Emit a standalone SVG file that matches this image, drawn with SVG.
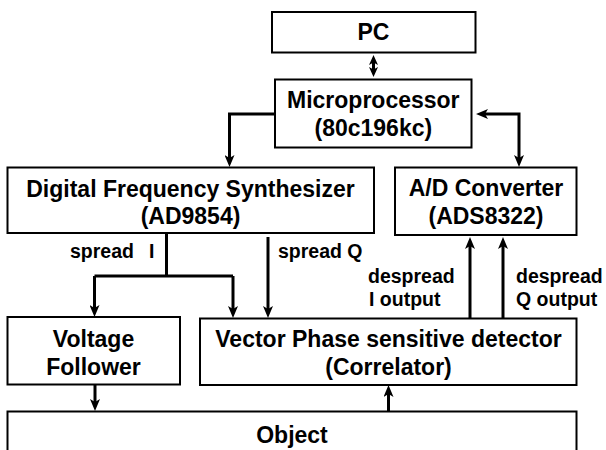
<svg xmlns="http://www.w3.org/2000/svg" width="606" height="450" viewBox="0 0 606 450">
  <style>
    .box { fill: #ffffff; stroke: #000000; stroke-width: 2; }
    .lbl { font-family: "Liberation Sans", Arial, sans-serif; font-weight: bold; font-size: 23px; fill: #000000; text-anchor: middle; }
    .sig { font-family: "Liberation Sans", Arial, sans-serif; font-weight: bold; font-size: 19.5px; fill: #000000; }
    .wire { fill: none; stroke: #000000; stroke-width: 3; }
    .arr { marker-end: url(#head); }
    .both { marker-start: url(#head); marker-end: url(#head); }
  </style>
  <defs>
    <!-- barbed arrowhead; tip sits 8px beyond the line end -->
    <marker id="head" viewBox="0 0 12 10" refX="4" refY="5" markerWidth="12" markerHeight="10" markerUnits="userSpaceOnUse" orient="auto-start-reverse">
      <path d="M0,0 L12,5 L0,10 L3,5 Z" fill="#000000"/>
    </marker>
    <marker id="headSmall" viewBox="0 0 10 9" refX="4" refY="4.5" markerWidth="10" markerHeight="9" markerUnits="userSpaceOnUse" orient="auto-start-reverse">
      <path d="M0,0 L10,4.5 L0,9 L2.5,4.5 Z" fill="#000000"/>
    </marker>
  </defs>

  <!-- blocks -->
  <g id="pc">
    <rect class="box" x="272" y="12" width="203.5" height="40.5"/>
    <text class="lbl" x="373.5" y="40">PC</text>
  </g>
  <g id="microprocessor">
    <rect class="box" x="275" y="79.5" width="196.5" height="68"/>
    <text class="lbl" x="373.3" y="108">Microprocessor</text>
    <text class="lbl" x="373.3" y="136">(80c196kc)</text>
  </g>
  <g id="dfs">
    <rect class="box" x="7.5" y="167.5" width="366.5" height="65.5"/>
    <text class="lbl" x="190.5" y="197">Digital Frequency Synthesizer</text>
    <text class="lbl" x="190.5" y="224">(AD9854)</text>
  </g>
  <g id="adc">
    <rect class="box" x="395" y="167.5" width="181.5" height="67.5"/>
    <text class="lbl" x="486" y="196">A/D Converter</text>
    <text class="lbl" x="486" y="224">(ADS8322)</text>
  </g>
  <g id="follower">
    <rect class="box" x="7.5" y="317" width="172.5" height="67.5"/>
    <text class="lbl" x="93.5" y="347">Voltage</text>
    <text class="lbl" x="93.5" y="375">Follower</text>
  </g>
  <g id="vpsd">
    <rect class="box" x="200" y="318.5" width="376.5" height="66.5"/>
    <text class="lbl" x="388.5" y="347">Vector Phase sensitive detector</text>
    <text class="lbl" x="388.5" y="375">(Correlator)</text>
  </g>
  <g id="object">
    <rect class="box" x="7.5" y="411.5" width="569" height="60"/>
    <text class="lbl" x="292" y="443">Object</text>
  </g>

  <!-- signal names -->
  <g id="signal-labels">
    <text class="sig" x="70" y="258">spread<tspan x="149">I</tspan></text>
    <text class="sig" x="278" y="258">spread Q</text>
    <text class="sig" x="368" y="283">despread</text>
    <text class="sig" x="369" y="306">I output</text>
    <text class="sig" x="516" y="283">despread</text>
    <text class="sig" x="516" y="306">Q output</text>
  </g>

  <!-- connectors -->
  <g id="connectors">
    <line x1="373.5" y1="61" x2="373.5" y2="71" stroke="#000000" stroke-width="3" marker-start="url(#headSmall)" marker-end="url(#headSmall)"/>
    <polyline class="wire arr" points="275,114 229.5,114 229.5,159"/>
    <polyline class="wire both" points="519,159 519,114 484,114"/>
    <line class="wire" x1="166.5" y1="233" x2="166.5" y2="276"/>
    <line class="wire" x1="94.5" y1="276" x2="233" y2="276"/>
    <line class="wire arr" x1="94.5" y1="276" x2="94.5" y2="309"/>
    <line class="wire arr" x1="233" y1="276" x2="233" y2="310"/>
    <line class="wire arr" x1="268" y1="237" x2="268" y2="310"/>
    <line class="wire arr" x1="470" y1="318" x2="470" y2="245"/>
    <line class="wire arr" x1="503" y1="318" x2="503" y2="245"/>
    <line class="wire arr" x1="95" y1="385" x2="95" y2="403"/>
    <line class="wire arr" x1="388.5" y1="411" x2="388.5" y2="393"/>
  </g>
</svg>
